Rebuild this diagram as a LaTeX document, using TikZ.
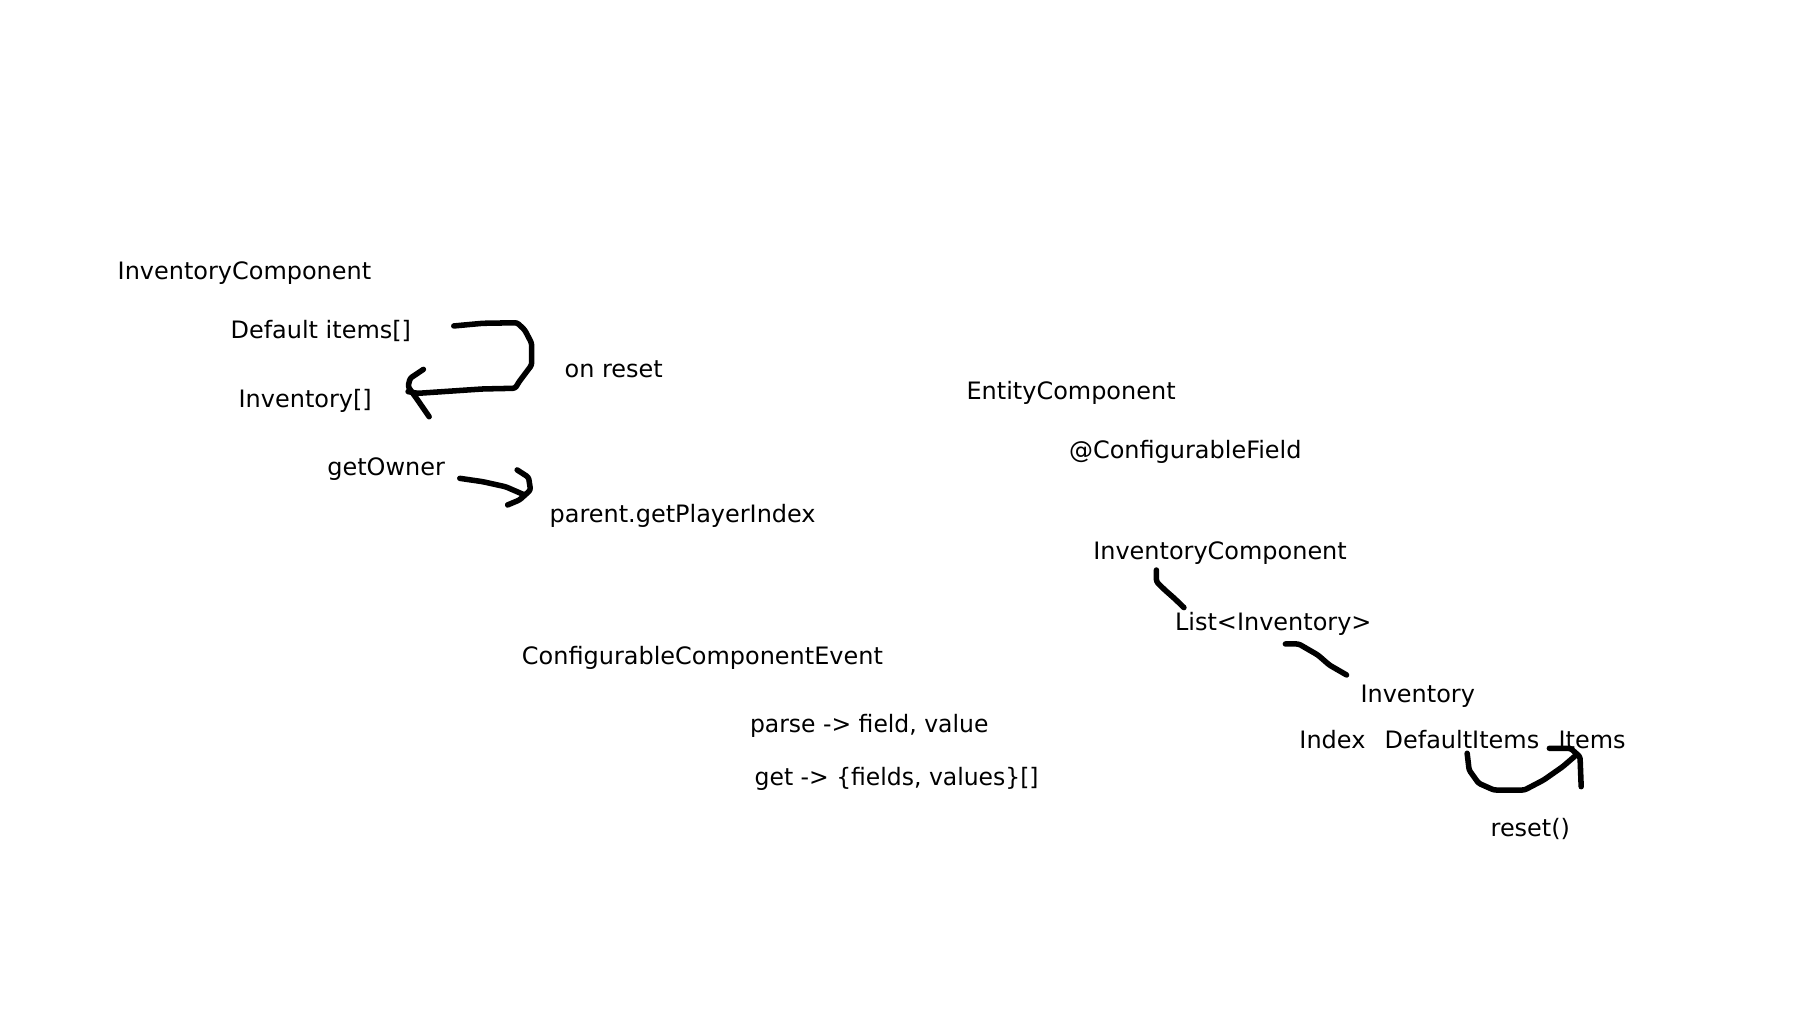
\documentclass[tikz,border=0pt]{standalone}
\usepackage{fontspec}
\setmainfont{DejaVu Sans}
\begin{document}
\begin{tikzpicture}[x=1pt,y=-1pt,
  lbl/.style={anchor=base west, inner sep=0pt, font=\fontsize{20.8}{25}\selectfont},
  stroke/.style={line width=4.8pt, line cap=round, line join=round, rounded corners=2pt}]
\fill[white] (0,0) rectangle (1568,880);
\useasboundingbox (0,0) rectangle (1568,880);
% texts
\node[lbl] (ic1) at (102,243) {InventoryComponent};
\node[lbl] (di) at (200,294) {Default items[]};
\node[lbl] (onr) at (490,328) {on reset};
\node[lbl] (inv1) at (207,354) {Inventory[]};
\node[lbl] (own) at (284,412.5) {getOwner};
\node[lbl] (gpi) at (477,454) {parent.getPlayerIndex};
\node[lbl] (ent) at (839,346.5) {EntityComponent};
\node[lbl] (cf) at (928,398.5) {@ConfigurableField};
\node[lbl] (ic2) at (949,486) {InventoryComponent};
\node[lbl] (lst) at (1020,547.5) {List<Inventory>};
\node[lbl] (inv2) at (1181,610) {Inventory};
\node[lbl] (idx) at (1128,650) {Index};
\node[lbl] (ditems) at (1202,650) {DefaultItems};
\node[lbl] (items) at (1353,650) {Items};
\node[lbl] (rst) at (1294,726) {reset()};
\node[lbl] (cce) at (453,577) {ConfigurableComponentEvent};
\node[lbl, xscale=0.98, transform shape] (parse) at (651,636) {parse -> field, value};
\node[lbl, xscale=0.98, transform shape] (get) at (655,682) {get -> \{fields, values\}[]};
% stroke end points
\coordinate (a1s) at (394,283);
\coordinate (a1e) at (354.3,340);
\coordinate (a2s) at (399.2,415.3);
\coordinate (a2e) at (455.6,429.8);
\coordinate (sAs) at (1004,494.9);
\coordinate (sAe) at (1027.9,527.5);
\coordinate (sBs) at (1116,559.1);
\coordinate (sBe) at (1169.1,586);
\coordinate (sCs) at (1273.8,654);
\coordinate (sCe) at (1368.5,655.5);
% arrow: Default items -> Inventory[] (on reset)
\draw[stroke] (a1s) -- (419,280.7) -- (449,280.2) -- (455.6,286.5) -- (461.6,298)
  -- (461.6,316.9) -- (450.7,331.4) -- (447.3,337.1) -- (419,337.7) -- (362.6,341.5) -- (a1e);
\draw[stroke] (367.6,320.7) -- (356,328.5) -- (354.3,335.7) -- (362.6,347.3) -- (372.6,361.8);
% arrow: getOwner -> parent.getPlayerIndex
\draw[stroke] (a2s) -- (419.1,418.2) -- (439,422.6) -- (a2e);
\draw[stroke] (449,408) -- (458.9,414.4) -- (460.6,425.4) -- (451,434.1) -- (440.7,438.4);
% InventoryComponent -- List<Inventory>
\draw[stroke] (sAs) -- (1004,505) -- (1011.3,512.2) -- (1019.6,519.5) -- (sAe);
% List<Inventory> -- Inventory
\draw[stroke] (sBs) -- (1127.6,559.1) -- (1144.2,568.7) -- (1154.2,577.4) -- (sBe);
% DefaultItems -> Items (reset())
\draw[stroke] (sCs) -- (1275.5,668.5) -- (1283.7,680) -- (1297,685.9) -- (1323.6,685.9)
  -- (1340.2,677.2) -- (1356.8,665.6) -- (sCe);
\draw[stroke] (1345.2,649.7) -- (1363.5,649.7) -- (1371.8,657) -- (1372.8,683);
\end{tikzpicture}
\end{document}
